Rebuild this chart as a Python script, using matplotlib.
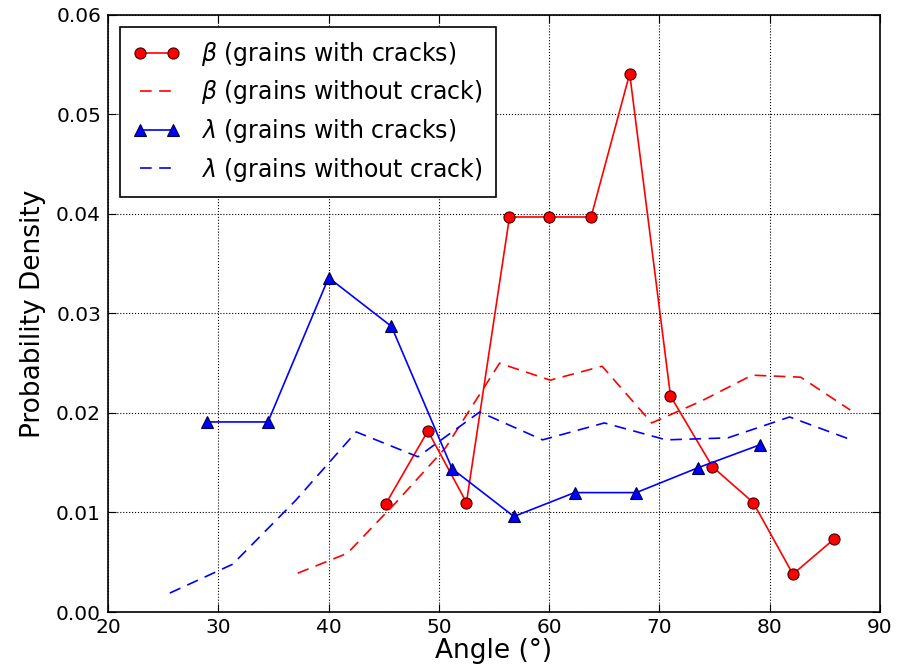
import matplotlib
matplotlib.use('Agg')
import matplotlib.pyplot as plt

# beta, grains with cracks
beta_crack_x = [45.2, 49.0, 52.5, 56.4, 60.0, 63.8, 67.3, 71.0, 74.8, 78.5, 82.1, 85.8]
beta_crack_y = [0.0109, 0.0182, 0.0110, 0.0397, 0.0397, 0.0397, 0.0541, 0.0217, 0.0146, 0.0110, 0.0038, 0.0073]

# beta, grains without crack
beta_nocrack_x = [37.2, 41.7, 46.1, 50.6, 55.5, 60.1, 64.8, 69.3, 73.8, 78.4, 82.8, 87.3]
beta_nocrack_y = [0.0039, 0.0059, 0.0110, 0.0165, 0.0250, 0.0233, 0.0247, 0.0190, 0.0212, 0.0238, 0.0236, 0.0203]

# lambda, grains with cracks
lam_crack_x = [29.0, 34.5, 40.0, 45.7, 51.2, 56.8, 62.3, 67.9, 73.5, 79.1]
lam_crack_y = [0.0191, 0.0191, 0.0336, 0.0287, 0.0144, 0.0096, 0.0120, 0.0120, 0.0145, 0.0168]

# lambda, grains without crack
lam_nocrack_x = [25.6, 31.3, 37.0, 42.5, 48.1, 53.7, 59.4, 65.0, 70.6, 76.2, 81.8, 87.4]
lam_nocrack_y = [0.0019, 0.0048, 0.0112, 0.0181, 0.0156, 0.0201, 0.0173, 0.0190, 0.0173, 0.0175, 0.0196, 0.0173]

fig = plt.figure(figsize=(8.98, 6.69), dpi=100)
ax = fig.add_axes([0.1203, 0.0852, 0.8597, 0.8924])

ax.plot(beta_crack_x, beta_crack_y, color='red', marker='o', markersize=8,
        markeredgecolor='#440000', markeredgewidth=0.8, linewidth=1.2,
        label=r'$\beta$ (grains with cracks)')
ax.plot(beta_nocrack_x, beta_nocrack_y, color='red', linestyle='--', dashes=(7, 4.5),
        linewidth=1.2, label=r'$\beta$ (grains without crack)')
ax.plot(lam_crack_x, lam_crack_y, color='blue', marker='^', markersize=8,
        markeredgecolor='#000044', markeredgewidth=0.8, linewidth=1.2,
        label=r'$\lambda$ (grains with cracks)')
ax.plot(lam_nocrack_x, lam_nocrack_y, color='blue', linestyle='--', dashes=(7, 4.5),
        linewidth=1.2, label=r'$\lambda$ (grains without crack)')

ax.set_xlim(20, 90)
ax.set_ylim(0, 0.06)
ax.set_xticks(range(20, 91, 10))
ax.set_yticks([0.00, 0.01, 0.02, 0.03, 0.04, 0.05, 0.06])
ax.set_yticklabels(['0.00', '0.01', '0.02', '0.03', '0.04', '0.05', '0.06'])
ax.tick_params(direction='in', top=True, right=True, length=6, labelsize=14.5)
ax.tick_params(axis='x', pad=4)
ax.tick_params(axis='y', pad=5)
ax.grid(True, color='black', linestyle=':', linewidth=0.8)
for s in ax.spines.values():
    s.set_linewidth(1.2)

ax.set_xlabel('Angle (°)', fontsize=19, labelpad=1)
ax.set_ylabel('Probability Density', fontsize=19, labelpad=7)

leg = ax.legend(loc='upper left', numpoints=2, fontsize=17, fancybox=False,
                framealpha=1, edgecolor='black', handlelength=2.0, borderpad=0.55,
                labelspacing=0.45, handletextpad=0.9, borderaxespad=0.5)
leg.get_frame().set_linewidth(1.2)

plt.savefig('out.png', dpi=100)
